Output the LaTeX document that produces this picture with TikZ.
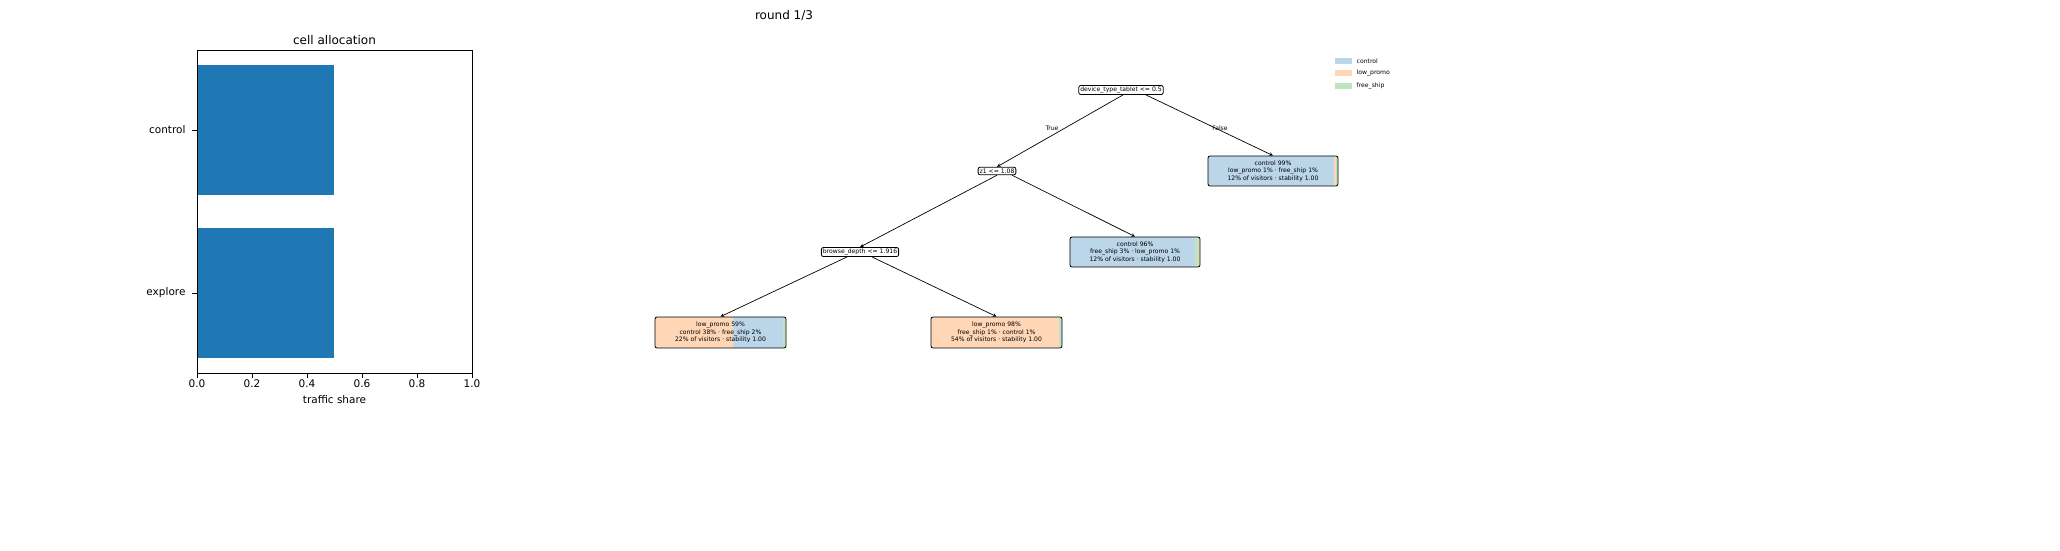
\documentclass[tikz,border=0pt]{standalone}
\usepackage{fontspec}
\setmainfont{DejaVu Sans}
\definecolor{bar}{HTML}{1F77B4}
\definecolor{cb}{HTML}{BBD5E9}
\definecolor{co}{HTML}{FFD7B6}
\definecolor{cg}{HTML}{C0E4C0}
\begin{document}
\begin{tikzpicture}[x=1pt,y=-1pt,
  lbl/.style={font=\fontsize{10.5pt}{12pt}\selectfont},
  tl/.style={font=\fontsize{6.1pt}{7.4pt}\selectfont,align=center,inner sep=1.5pt},
  split/.style={tl,draw,rounded corners=2pt,fill=white,line width=0.8pt},
  leaf/.style={tl,draw,rounded corners=2pt,line width=0.8pt},
  arr/.style={-stealth,line width=0.7pt}]
\path[use as bounding box] (0,0) rectangle (2060,550);
\node[font=\fontsize{12pt}{14pt}\selectfont] (ttl) at (784,15) {round 1/3};
% bar chart
\fill[bar] (197,65) rectangle (334,195);
\fill[bar] (197,228) rectangle (334,358);
\draw[line width=0.8pt] (197,50) rectangle (472,373);
\node[font=\fontsize{12pt}{14pt}\selectfont] (ct) at (334.5,40) {cell allocation};
\draw (197,130) -- (192,130); \node[lbl,anchor=east] (yc) at (189,130) {control};
\draw (197,293) -- (192,293); \node[lbl,anchor=east] (ye) at (189,293) {explore};
\foreach \v/\t in {0/0.0,1/0.2,2/0.4,3/0.6,4/0.8,5/1.0}{
  \draw (197+55*\v,373) -- (197+55*\v,378);
  \node[lbl] at (197+55*\v,384) {\t};}
\node[lbl] (xl) at (334.5,400) {traffic share};
\node[split] (root) at (1121,90) {device\_type\_tablet <= 0.5};
\node[split] (z1) at (997,171) {z1 <= 1.08};
\node[split] (bd) at (860,252) {browse\_depth <= 1.916};
% leaf R1
\begin{scope}
\clip[rounded corners=2pt] (1208,156) rectangle (1338,186);
\fill[cb] (1208,156) rectangle (1334,186);
\fill[co] (1334,156) rectangle (1336,186);
\fill[cg] (1336,156) rectangle (1338,186);
\end{scope}
\node[leaf,minimum width=130pt,minimum height=30pt] (r1) at (1273,171) {control 99\%\\low\_promo 1\% · free\_ship 1\%\\12\% of visitors · stability 1.00};
% leaf mid
\begin{scope}
\clip[rounded corners=2pt] (1070,237) rectangle (1200,267);
\fill[cb] (1070,237) rectangle (1195,267);
\fill[cg] (1195,237) rectangle (1199,267);
\fill[co] (1199,237) rectangle (1200,267);
\end{scope}
\node[leaf,minimum width=130pt,minimum height=30pt] (m) at (1135,252) {control 96\%\\free\_ship 3\% · low\_promo 1\%\\12\% of visitors · stability 1.00};
% leaf LL
\begin{scope}
\clip[rounded corners=2pt] (655,317) rectangle (786,348);
\fill[co] (655,317) rectangle (733,348);
\fill[cb] (733,317) rectangle (783,348);
\fill[cg] (783,317) rectangle (786,348);
\end{scope}
\node[leaf,minimum width=131pt,minimum height=31pt] (ll) at (720.5,332.5) {low\_promo 59\%\\control 38\% · free\_ship 2\%\\22\% of visitors · stability 1.00};
% leaf LR
\begin{scope}
\clip[rounded corners=2pt] (931,317) rectangle (1062,348);
\fill[co] (931,317) rectangle (1059,348);
\fill[cg] (1059,317) rectangle (1061,348);
\fill[cb] (1061,317) rectangle (1062,348);
\end{scope}
\node[leaf,minimum width=131pt,minimum height=31pt] (lr) at (996.5,332.5) {low\_promo 98\%\\free\_ship 1\% · control 1\%\\54\% of visitors · stability 1.00};
% edges
\coordinate (a1) at ([xshift=2pt]root.south);
\coordinate (a2) at ([xshift=25pt]root.south);
\coordinate (a3) at ([xshift=15pt]z1.south);
\coordinate (a4) at ([xshift=-13pt]bd.south);
\coordinate (a5) at ([xshift=12pt]bd.south);
\draw[arr] (a1) -- (z1.north);
\draw[arr] (a2) -- (r1.north);
\draw[arr] (z1.south) -- (bd.north);
\draw[arr] (a3) -- (m.north);
\draw[arr] (a4) -- (ll.north);
\draw[arr] (a5) -- (lr.north);
\node[tl] (tr) at (1052,128) {True};
\node[tl] (fa) at (1220,128) {False};
% legend
\fill[cb] (1335,58) rectangle (1352,64); \node[tl,anchor=west] (l1) at (1355,61) {control};
\fill[co] (1335,70) rectangle (1352,76); \node[tl,anchor=west] (l2) at (1355,73) {low\_promo};
\fill[cg] (1335,83) rectangle (1352,89); \node[tl,anchor=west] (l3) at (1355,86) {free\_ship};
\end{tikzpicture}
\end{document}
